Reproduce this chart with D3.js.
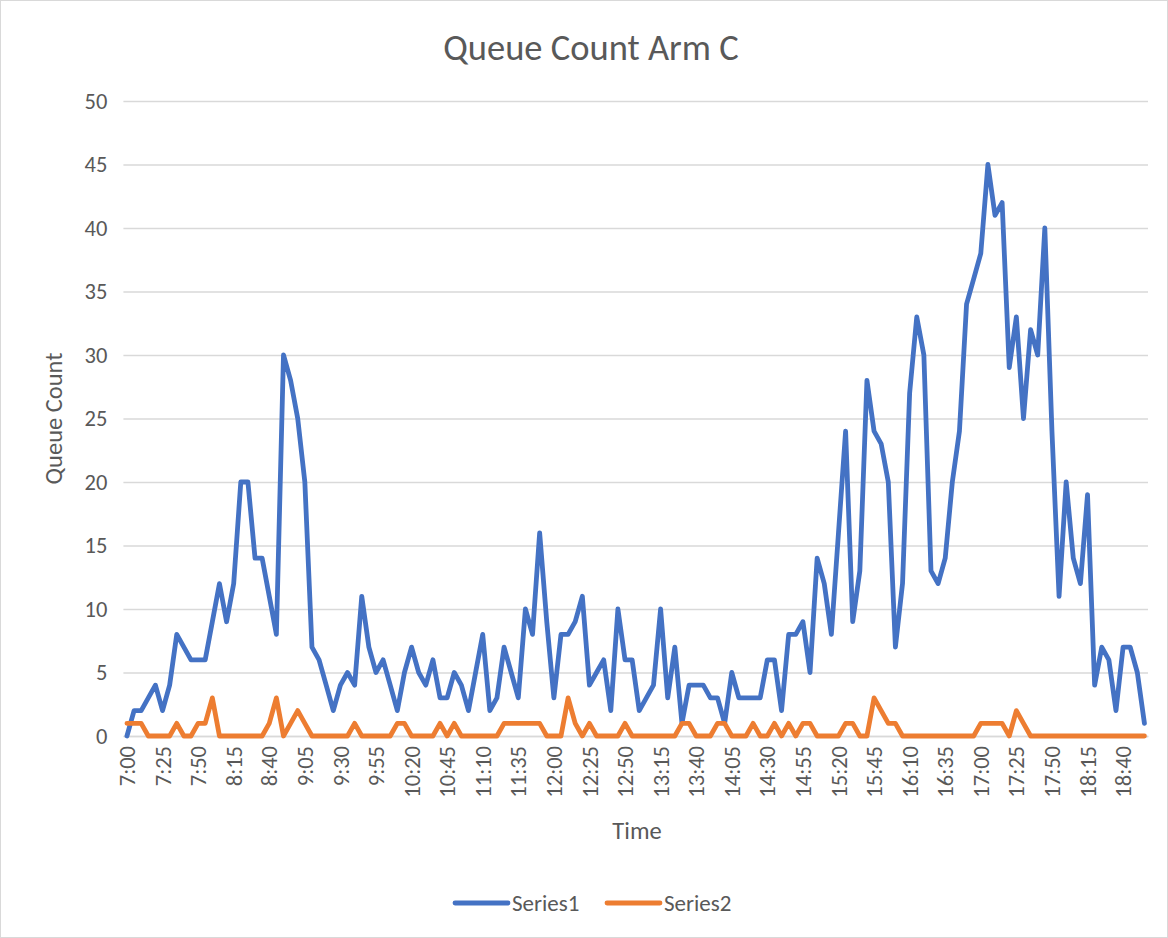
<!DOCTYPE html>
<html lang="en">
<head>
<meta charset="utf-8">
<title>Queue Count Arm C</title>
<script src="https://d3js.org/d3.v7.min.js"></script>
<style>
* { margin: 0; padding: 0; }
body { background: #fff; font-family: Carlito, Calibri, Lato, sans-serif; }
svg text { fill: #595959; }
</style>
</head>
<body>
<script>
// categories: one reading every 5 minutes
const times = [
  "7:00","7:05","7:10","7:15","7:20","7:25","7:30","7:35","7:40","7:45","7:50","7:55",
  "8:00","8:05","8:10","8:15","8:20","8:25","8:30","8:35","8:40","8:45","8:50","8:55",
  "9:00","9:05","9:10","9:15","9:20","9:25","9:30","9:35","9:40","9:45","9:50","9:55",
  "10:00","10:05","10:10","10:15","10:20","10:25","10:30","10:35","10:40","10:45","10:50","10:55",
  "11:00","11:05","11:10","11:15","11:20","11:25","11:30","11:35","11:40","11:45","11:50","11:55",
  "12:00","12:05","12:10","12:15","12:20","12:25","12:30","12:35","12:40","12:45","12:50","12:55",
  "13:00","13:05","13:10","13:15","13:20","13:25","13:30","13:35","13:40","13:45","13:50","13:55",
  "14:00","14:05","14:10","14:15","14:20","14:25","14:30","14:35","14:40","14:45","14:50","14:55",
  "15:00","15:05","15:10","15:15","15:20","15:25","15:30","15:35","15:40","15:45","15:50","15:55",
  "16:00","16:05","16:10","16:15","16:20","16:25","16:30","16:35","16:40","16:45","16:50","16:55",
  "17:00","17:05","17:10","17:15","17:20","17:25","17:30","17:35","17:40","17:45","17:50","17:55",
  "18:00","18:05","18:10","18:15","18:20","18:25","18:30","18:35","18:40","18:45","18:50","18:55"
];

const tickLabels = ["7:00","7:25","7:50","8:15","8:40","9:05","9:30","9:55","10:20","10:45",
  "11:10","11:35","12:00","12:25","12:50","13:15","13:40","14:05","14:30","14:55",
  "15:20","15:45","16:10","16:35","17:00","17:25","17:50","18:15","18:40"];

const yTicks = [0, 5, 10, 15, 20, 25, 30, 35, 40, 45, 50];

const series1 = [
  0,2,2,3,4,2,4,8,7,6,6,6,
  9,12,9,12,20,20,14,14,11,8,30,28,
  25,20,7,6,4,2,4,5,4,11,7,5,
  6,4,2,5,7,5,4,6,3,3,5,4,
  2,5,8,2,3,7,5,3,10,8,16,9,
  3,8,8,9,11,4,5,6,2,10,6,6,
  2,3,4,10,3,7,1,4,4,4,3,3,
  1,5,3,3,3,3,6,6,2,8,8,9,
  5,14,12,8,16,24,9,13,28,24,23,20,
  7,12,27,33,30,13,12,14,20,24,34,36,
  38,45,41,42,29,33,25,32,30,40,24,11,
  20,14,12,19,4,7,6,2,7,7,5,1
];

const series2 = [
  1,1,1,0,0,0,0,1,0,0,1,1,
  3,0,0,0,0,0,0,0,1,3,0,1,
  2,1,0,0,0,0,0,0,1,0,0,0,
  0,0,1,1,0,0,0,0,1,0,1,0,
  0,0,0,0,0,1,1,1,1,1,1,0,
  0,0,3,1,0,1,0,0,0,0,1,0,
  0,0,0,0,0,0,1,1,0,0,0,1,
  1,0,0,0,1,0,0,1,0,1,0,1,
  1,0,0,0,0,1,1,0,0,3,2,1,
  1,0,0,0,0,0,0,0,0,0,0,0,
  1,1,1,1,0,2,1,0,0,0,0,0,
  0,0,0,0,0,0,0,0,0,0,0,0
];

const seriesNames = ["Series1", "Series2"];
const colors = ["#4472C4", "#ED7D31"];

let w = 1168, h = 938;
let plotLeft = 123.4, plotRight = 1148, plotTop = 101, plotBottom = 736;
let font = "Carlito, Calibri, Lato, sans-serif";

let svg = d3.select("body").append("svg")
  .attr("width", w)
  .attr("height", h);

svg.append("rect")
  .attr("x", 0.5).attr("y", 0.5)
  .attr("width", w - 1).attr("height", h - 1)
  .attr("fill", "#fff")
  .attr("stroke", "#d9d9d9");

let x = d3.scaleBand().domain(times).range([plotLeft, plotRight]).padding(0);
let xc = d => x(d) + x.bandwidth() / 2;
let y = d3.scaleLinear().domain([0, 50]).range([plotBottom, plotTop]);

// gridlines + y labels
let yAxis = svg.append("g")
  .attr("transform", "translate(" + plotLeft + ",0)")
  .call(d3.axisLeft(y).tickValues(yTicks).tickSize(-(plotRight - plotLeft)).tickPadding(16));
yAxis.select(".domain").remove();
yAxis.selectAll(".tick line").attr("stroke", "#d9d9d9").attr("stroke-width", 1.3);
yAxis.selectAll(".tick text")
  .attr("font-size", 22.5)
  .attr("font-family", font)
  .attr("fill", "#595959");

// x labels
let xAxis = svg.append("g")
  .attr("transform", "translate(0," + plotBottom + ")")
  .call(d3.axisBottom(x).tickValues(tickLabels).tickSize(0).tickPadding(0));
xAxis.select(".domain").attr("stroke", "#d9d9d9").attr("stroke-width", 1.3);
xAxis.selectAll(".tick text")
  .attr("transform", "rotate(-90)")
  .attr("text-anchor", "end")
  .attr("x", -10)
  .attr("y", 0)
  .attr("dy", "0.36em")
  .attr("font-size", 22.5)
  .attr("font-family", font)
  .attr("fill", "#595959");

// lines
let line = d3.line()
  .x((d, i) => xc(times[i]))
  .y(d => y(d));

[series1, series2].forEach(function(s, k) {
  svg.append("path")
    .datum(s)
    .attr("d", line)
    .attr("fill", "none")
    .attr("stroke", colors[k])
    .attr("stroke-width", 4.8)
    .attr("stroke-linejoin", "round")
    .attr("stroke-linecap", "round");
});

// titles
svg.append("text")
  .text("Queue Count Arm C")
  .attr("x", 591).attr("y", 60)
  .attr("text-anchor", "middle")
  .attr("font-size", 36.5);

svg.append("text")
  .text("Queue Count")
  .attr("transform", "translate(62," + ((plotTop + plotBottom) / 2) + ") rotate(-90)")
  .attr("text-anchor", "middle")
  .attr("font-size", 24.5);

svg.append("text")
  .text("Time")
  .attr("x", 637).attr("y", 839)
  .attr("text-anchor", "middle")
  .attr("font-size", 24.5);

// legend
let legendX = [455, 607];
seriesNames.forEach(function(n, k) {
  let g = svg.append("g").attr("transform", "translate(" + legendX[k] + ",903)");
  g.append("line")
    .attr("x1", 0).attr("x2", 53)
    .attr("y1", 0).attr("y2", 0)
    .attr("stroke", colors[k])
    .attr("stroke-width", 4.8)
    .attr("stroke-linecap", "round");
  g.append("text")
    .text(n)
    .attr("x", 57).attr("y", 0)
    .attr("dy", "0.35em")
    .attr("font-size", 23);
});
</script>
</body>
</html>
